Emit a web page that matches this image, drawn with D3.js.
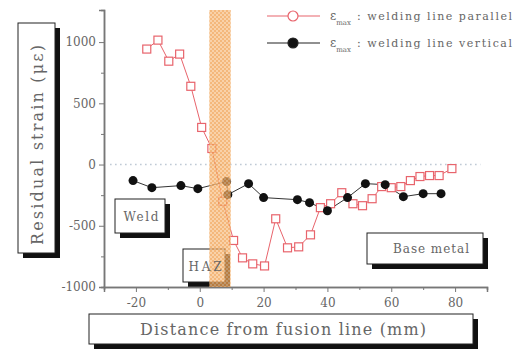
<!DOCTYPE html>
<html>
<head>
<meta charset="utf-8">
<style>
  body { margin: 0; background: #fff; }
  svg text { font-family: "DejaVu Serif", "Liberation Serif", serif; fill: #666; }
</style>
</head>
<body>
<div id="chart"></div>
<script src="https://d3js.org/d3.v7.min.js"></script>
<script>
// eps_max, welding line parallel (open squares)
const parallelX = [-16.6, -13.1, -9.7, -6.3, -2.8, 0.6, 3.8, 7.2, 10.6, 13.4, 16.6, 20.3, 23.8, 27.5, 31, 34.7, 37.8, 41, 44.5, 48, 51, 54, 57, 60, 63, 66, 69, 72, 75, 79];
const parallelY = [943, 1016, 844, 902, 639, 303, 131, -300, -620, -762, -811, -828, -443, -680, -672, -574, -352, -320, -230, -320, -336, -279, -180, -189, -180, -131, -98, -90, -90, -33];

// eps_max, welding line vertical (filled circles)
const verticalX = [-20.9, -15, -5.9, -0.6, 8.4, 8.8, 15.3, 20, 30.6, 34.4, 40, 46.3, 51.9, 58.1, 63.8, 70, 75.6];
const verticalY = [-131, -189, -172, -197, -139, -246, -156, -270, -287, -311, -377, -270, -156, -164, -262, -238, -238];

const xTicks = [-20, 0, 20, 40, 60, 80];
const yTicks = [-1000, -500, 0, 500, 1000];
const hazRange = [3, 9.7];

const width = 521, height = 356;

const svg = d3.select('#chart').append('svg')
  .attr('width', width)
  .attr('height', height);

const x = d3.scaleLinear().domain([-30, 90]).range([104, 487]);
const y = d3.scaleLinear().domain([-1000, 1262]).range([287, 10]);

// hatch pattern for the HAZ band
const defs = svg.append('defs');
const pat = defs.append('pattern')
  .attr('id', 'hatch')
  .attr('width', 4).attr('height', 4)
  .attr('patternUnits', 'userSpaceOnUse');
pat.append('rect').attr('width', 4).attr('height', 4).attr('fill', '#f7c38c');
pat.append('rect').attr('width', 2).attr('height', 2).attr('fill', '#f0a050');
pat.append('rect').attr('x', 2).attr('y', 2).attr('width', 2).attr('height', 2).attr('fill', '#f0a050');

// annotation box with drop shadow
function box(x0, y0, w, h) {
  svg.append('rect').attr('x', x0 + 5).attr('y', y0 + 5).attr('width', w).attr('height', h).attr('fill', '#111');
  svg.append('rect').attr('x', x0).attr('y', y0).attr('width', w).attr('height', h)
    .attr('fill', '#fff').attr('stroke', '#222').attr('stroke-width', 1);
}
function label(cx, cy, txt, fs, len) {
  svg.append('text').attr('x', cx).attr('y', cy)
    .attr('text-anchor', 'middle').attr('font-size', fs)
    .attr('textLength', len).attr('lengthAdjust', 'spacing')
    .text(txt);
}

box(115, 199, 50, 34);
label(141, 221, 'Weld', 12, 35);
box(183, 249, 42, 33);
box(367, 233, 116, 31);
label(431, 253, 'Base metal', 12, 76);

// zero reference line
svg.append('line')
  .attr('x1', x(-28)).attr('x2', x(88))
  .attr('y1', y(0)).attr('y2', y(0))
  .attr('stroke', '#9ab')
  .attr('stroke-width', 1.5)
  .attr('stroke-dasharray', '1,4');

// axes
svg.append('g')
  .attr('transform', `translate(${x(-30)},0)`)
  .call(d3.axisLeft(y).tickValues(yTicks).tickSize(5).tickPadding(3).tickFormat(d => String(d)));
svg.append('g')
  .attr('transform', `translate(${x(-30)},0)`)
  .call(d3.axisLeft(y).tickValues([-750, -250, 250, 750]).tickSize(3).tickFormat(''));

svg.append('g')
  .attr('transform', `translate(0,${y(-1000)})`)
  .call(d3.axisBottom(x).tickValues(xTicks).tickSize(5).tickPadding(6).tickFormat(d => String(d)));
svg.append('g')
  .attr('transform', `translate(0,${y(-1000)})`)
  .call(d3.axisBottom(x).tickValues([-30, -10, 10, 30, 50, 70, 90]).tickSize(3).tickFormat(''));

svg.selectAll('.domain').attr('stroke', '#777').attr('stroke-width', 1.5);
svg.selectAll('.tick line').attr('stroke', '#777');
svg.selectAll('.tick text').attr('font-size', 12).attr('fill', '#777')
  .attr('font-family', '"DejaVu Serif", serif');

// series
const redCol = '#e8646c';
const parallel = parallelX.map((d, i) => [d, parallelY[i]]);
const vertical = verticalX.map((d, i) => [d, verticalY[i]]);
const line = d3.line().x(d => x(d[0])).y(d => y(d[1]));

svg.append('path').datum(vertical)
  .attr('d', line).attr('fill', 'none').attr('stroke', '#333').attr('stroke-width', 1);
svg.append('path').datum(parallel)
  .attr('d', line).attr('fill', 'none').attr('stroke', redCol).attr('stroke-width', 1);

svg.selectAll('.sq').data(parallel).enter().append('rect')
  .attr('x', d => x(d[0]) - 4).attr('y', d => y(d[1]) - 4)
  .attr('width', 8).attr('height', 8)
  .attr('fill', '#fff').attr('stroke', redCol).attr('stroke-width', 1.2);

svg.selectAll('.dot').data(vertical).enter().append('circle')
  .attr('cx', d => x(d[0])).attr('cy', d => y(d[1]))
  .attr('r', 4.5).attr('fill', '#111');

// HAZ band, laid over the data
svg.append('rect')
  .attr('x', x(hazRange[0]))
  .attr('y', y(1262))
  .attr('width', x(hazRange[1]) - x(hazRange[0]))
  .attr('height', y(-1000) - y(1262))
  .attr('fill', 'url(#hatch)')
  .attr('opacity', 0.75);
label(205, 271, 'HAZ', 12, 33);

// legend
const legend = [
  { yy: 16, col: redCol, fill: '#fff', text: ': welding line parallel' },
  { yy: 43, col: '#222', fill: '#111', text: ': welding line vertical' }
];
legend.forEach(l => {
  svg.append('line').attr('x1', 267).attr('x2', 320).attr('y1', l.yy).attr('y2', l.yy)
    .attr('stroke', l.col).attr('stroke-width', 1.2);
  svg.append('circle').attr('cx', 293).attr('cy', l.yy).attr('r', 5)
    .attr('fill', l.fill).attr('stroke', l.col).attr('stroke-width', 1.2);
  const t = svg.append('text').attr('x', 330).attr('y', l.yy + 4).attr('font-size', 12);
  t.append('tspan').text('ε');
  t.append('tspan').attr('font-size', 7).attr('dy', 5).text('max');
  svg.append('text').attr('x', 357).attr('y', l.yy + 4).attr('font-size', 11)
    .attr('textLength', 155).attr('lengthAdjust', 'spacing').text(l.text);
});

// axis title boxes
box(18, 23, 37, 230);
svg.append('text')
  .attr('transform', `translate(43,145) rotate(-90)`)
  .attr('text-anchor', 'middle').attr('font-size', 16)
  .attr('textLength', 200).attr('lengthAdjust', 'spacing')
  .text('Residual strain (με)');

box(89, 314, 384, 30);
svg.append('text')
  .attr('x', 283).attr('y', 335)
  .attr('text-anchor', 'middle').attr('font-size', 16)
  .attr('textLength', 286).attr('lengthAdjust', 'spacing')
  .text('Distance from fusion line (mm)');
</script>
</body>
</html>
